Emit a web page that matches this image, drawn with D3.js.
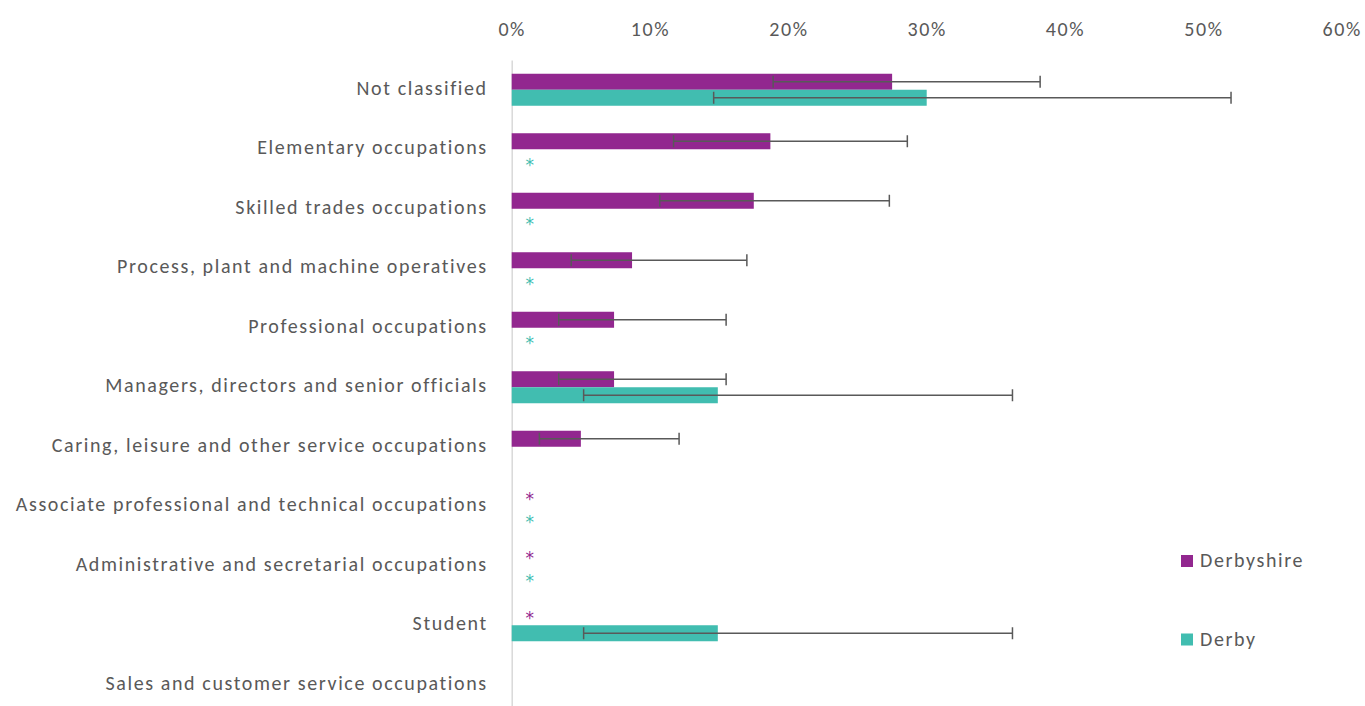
<!DOCTYPE html>
<html>
<head>
  <title>Occupation by area</title>
  <style>
    html, body {
      margin: 0;
      padding: 0;
      width: 100%;
      height: 100%;
      overflow: hidden;
      background: #fff;
    }
    text {
      font-family: Carlito, Lato, "Open Sans", sans-serif;
      fill: #595959;
      letter-spacing: 1.6px;
    }
  </style>
  <script src="https://d3js.org/d3.v7.min.js"></script>
</head>
<body>
  <div id="chart"></div>

  <script>
    // categories, top to bottom
    const categories = [
      "Not classified",
      "Elementary occupations",
      "Skilled trades occupations",
      "Process, plant and machine operatives",
      "Professional occupations",
      "Managers, directors and senior officials",
      "Caring, leisure and other service occupations",
      "Associate professional and technical occupations",
      "Administrative and secretarial occupations",
      "Student",
      "Sales and customer service occupations"
    ];

    const seriesNames = ["Derbyshire", "Derby"];

    // percentages; "*" = suppressed, null = nothing shown
    const derbyshireValues = [27.5, 18.7, 17.5, 8.7, 7.4, 7.4, 5.0, "*", "*", "*", null];
    const derbyshireLow    = [18.9, 11.7, 10.7, 4.3, 3.4, 3.4, 2.0, null, null, null, null];
    const derbyshireHigh   = [38.2, 28.6, 27.3, 17.0, 15.5, 15.5, 12.1, null, null, null, null];

    const derbyValues = [30.0, "*", "*", "*", "*", 14.9, null, "*", "*", 14.9, null];
    const derbyLow    = [14.6, null, null, null, null, 5.2, null, null, null, 5.2, null];
    const derbyHigh   = [52.0, null, null, null, null, 36.2, null, null, null, 36.2, null];

    const xTicks = [0, 10, 20, 30, 40, 50, 60];

    const colors = { "Derbyshire": "#92278f", "Derby": "#41bdb0" };

    const width = 1365;
    const height = 706;

    // build rows from the arrays
    const rows = [];
    categories.forEach((c, i) => {
      rows.push({ cat: c, series: "Derbyshire", value: derbyshireValues[i], lo: derbyshireLow[i], hi: derbyshireHigh[i] });
      rows.push({ cat: c, series: "Derby", value: derbyValues[i], lo: derbyLow[i], hi: derbyHigh[i] });
    });
    const bars = rows.filter(d => typeof d.value === "number");
    const stars = rows.filter(d => d.value === "*");

    const svg = d3.select("#chart")
      .append("svg")
      .attr("width", width)
      .attr("height", height);

    const x = d3.scaleLinear()
      .domain([0, 60])
      .range([511.7, 1341.7]);

    const y = d3.scaleBand()
      .domain(categories)
      .range([60, 60 + 59.5 * categories.length])
      .paddingInner(0.462)
      .paddingOuter(0.231);

    const ySub = d3.scaleBand()
      .domain(seriesNames)
      .range([0, y.bandwidth()]);

    // top axis with percent labels
    const xAxis = svg.append("g")
      .attr("transform", "translate(0,36)")
      .call(d3.axisTop(x).tickValues(xTicks).tickSize(0).tickPadding(0).tickFormat(d => d + "%"));
    xAxis.select(".domain").remove();
    xAxis.selectAll("text")
      .attr("font-size", 20)
      .attr("font-family", null);

    // left axis: category labels + light vertical line
    const yAxis = svg.append("g")
      .attr("transform", `translate(${x(0)},0)`)
      .call(d3.axisLeft(y).tickSize(0).tickPadding(24));
    yAxis.select(".domain")
      .attr("stroke", "#d9d9d9")
      .attr("stroke-width", 1.5);
    yAxis.selectAll("text")
      .attr("font-size", 20)
      .attr("font-family", null)
      .attr("dy", "0.25em");

    // bars
    svg.append("g")
      .selectAll("rect")
      .data(bars)
      .join("rect")
      .attr("x", x(0))
      .attr("y", d => y(d.cat) + ySub(d.series))
      .attr("width", d => x(d.value) - x(0))
      .attr("height", ySub.bandwidth())
      .attr("fill", d => colors[d.series]);

    // error bars
    const eb = svg.append("g")
      .attr("stroke", "#595959")
      .attr("stroke-width", 1.5)
      .selectAll("g")
      .data(bars.filter(d => d.lo != null))
      .join("g")
      .attr("transform", d => `translate(0,${y(d.cat) + ySub(d.series) + ySub.bandwidth() / 2})`);
    eb.append("line")
      .attr("x1", d => x(d.lo))
      .attr("x2", d => x(d.hi));
    eb.append("line")
      .attr("x1", d => x(d.lo)).attr("x2", d => x(d.lo))
      .attr("y1", -6).attr("y2", 6);
    eb.append("line")
      .attr("x1", d => x(d.hi)).attr("x2", d => x(d.hi))
      .attr("y1", -6).attr("y2", 6);

    // suppressed values
    svg.append("g")
      .selectAll("text")
      .data(stars)
      .join("text")
      .attr("x", x(0) + 18)
      .attr("y", d => y(d.cat) + ySub(d.series) + ySub.bandwidth() / 2 + (d.series === "Derby" ? 13.5 : 6.5))
      .attr("text-anchor", "middle")
      .attr("font-size", 17)
      .style("font-family", "'DejaVu Sans', sans-serif")
      .style("letter-spacing", "0")
      .style("fill", d => colors[d.series])
      .text("*");

    // legend
    const legend = svg.append("g")
      .selectAll("g")
      .data([{ name: "Derbyshire", y: 555 }, { name: "Derby", y: 633.5 }])
      .join("g")
      .attr("transform", d => `translate(1181,${d.y})`);
    legend.append("rect")
      .attr("width", 12)
      .attr("height", 12)
      .attr("fill", d => colors[d.name]);
    legend.append("text")
      .attr("x", 19)
      .attr("y", 12)
      .attr("font-size", 20)
      .text(d => d.name);
  </script>
</body>
</html>
